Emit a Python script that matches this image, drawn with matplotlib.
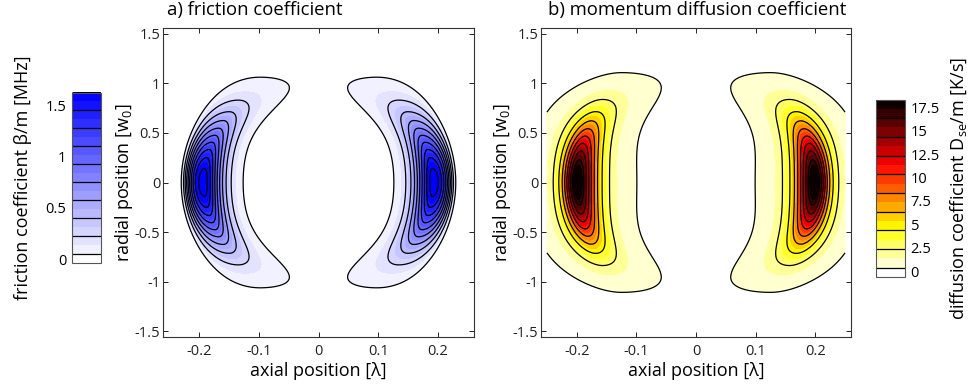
import numpy as np
import matplotlib
matplotlib.use("Agg")
import matplotlib.pyplot as plt
from matplotlib.colors import LinearSegmentedColormap, Normalize
from matplotlib.ticker import FormatStrFormatter

plt.rcParams["font.family"] = ["Open Sans", "DejaVu Sans"]
plt.rcParams["mathtext.default"] = "regular"
plt.rcParams["axes.unicode_minus"] = False

# ---- values ----
x_ticks = [-0.2, -0.1, 0, 0.1, 0.2]
r_ticks = [-1.5, -1, -0.5, 0, 0.5, 1, 1.5]
x_lim = (-0.26, 0.26)
r_lim = (-1.56, 1.56)
data_x = (-0.25, 0.25)

# ridge height along r (both maps): exp(-k2 r^2 - k4 r^4)
env_k2 = 2.6
env_k4 = 0.5

# a) friction coefficient [MHz]
fric_peak = 1.72
fric_peak_x = 0.192       # ridge position at r = 0
fric_bend = 0.0834        # ridge moves toward x = 0 by bend * r^2
fric_widen_out = 0.6      # outer flank widens by (1 + k r^2)
fric_widen_in = 1.9       # inner flank widens by (1 + k r^4)
fric_half = 0.0405        # peak to outer zero crossing at r = 0
fric_sharp_out = 2.15
fric_sharp_in = 5.4
fric_lines = [0.048, 0.224, 0.400, 0.576, 0.752, 0.928, 1.104, 1.280, 1.456, 1.632]
fric_fill = [-0.03, 0.048, 0.136, 0.224, 0.312, 0.400, 0.488, 0.576, 0.664, 0.752,
             0.840, 0.928, 1.016, 1.104, 1.192, 1.280, 1.368, 1.456, 1.544, 1.632, 1.81]
fric_color_lim = (0.0, 1.62)
fric_cb_lim = (-0.03, 1.62)
fric_cb_ticks = [0, 0.5, 1, 1.5]

# b) momentum diffusion coefficient [K/s]
diff_peak = 18.8
diff_peak_x = 0.199
diff_bend = 0.06
diff_widen_out = 1.4
diff_widen_in = 1.7
diff_width_out = 0.030
diff_width_in = 0.040
diff_lines = [0.36, 2.36, 4.36, 6.36, 8.36, 10.36, 12.36, 14.36, 16.36]
diff_fill = [-0.5, 0.36, 1.36, 2.36, 3.36, 4.36, 5.36, 6.36, 7.36, 8.36, 9.36,
             10.36, 11.36, 12.36, 13.36, 14.36, 15.36, 16.36, 17.36, 18.36, 19.36]
diff_color_lim = (0.0, 18.0)
diff_cb_lim = (-0.5, 18.3)
diff_cb_ticks = [0, 2.5, 5, 7.5, 10, 12.5, 15, 17.5]


def envelope(r):
    return np.exp(-env_k2 * r ** 2 - env_k4 * r ** 4)


def crescent_offset(x, r, peak_x, bend, widen_out, widen_in):
    # signed distance from the bent ridge, scaled by the local flank width
    raw = np.abs(x) - (peak_x - bend * r ** 2)
    scale = np.where(raw > 0, 1 + widen_out * r ** 2, 1 + widen_in * r ** 4)
    return raw / scale


x = np.linspace(data_x[0], data_x[1], 501)
r = np.linspace(r_lim[0], r_lim[1], 601)
X, R = np.meshgrid(x, r)

d = crescent_offset(X, R, fric_peak_x, fric_bend, fric_widen_out, fric_widen_in)
tau = 1 - d / fric_half
sharp = np.where(tau < 1, fric_sharp_out, fric_sharp_in)
tau_c = np.maximum(tau, 1e-9)
prof = np.where(tau > 0, np.exp(sharp * (np.log(tau_c) + 1 - tau_c)), 0.0)
friction = fric_peak * envelope(R) * prof

d = crescent_offset(X, R, diff_peak_x, diff_bend, diff_widen_out, diff_widen_in)
width = np.where(d > 0, diff_width_out, diff_width_in)
diffusion = diff_peak * envelope(R) * (1 + (d / width) ** 2) ** -2

blue_cmap = LinearSegmentedColormap.from_list("wb", ["white", "#0000ff"])
hot_cmap = plt.get_cmap("hot_r")


def band_colors(levels, cmap, lim):
    norm = Normalize(lim[0], lim[1])
    cols = ["white"]
    for lo, hi in zip(levels[1:-1], levels[2:]):
        cols.append(cmap(float(np.clip(norm(0.5 * (lo + hi)), 0, 1))))
    return cols


W, H = 976, 389
fig = plt.figure(figsize=(W / 100, H / 100), dpi=100)


def fig_rect(left, top, right, bottom):
    return [left / W, 1 - bottom / H, (right - left) / W, (bottom - top) / H]


ax_a = fig.add_axes(fig_rect(163, 28, 474, 337))
ax_b = fig.add_axes(fig_rect(541, 28, 851, 337))
cax_a = fig.add_axes(fig_rect(72, 93, 101, 263))
cax_b = fig.add_axes(fig_rect(876, 100, 905, 277))

panels = [
    (ax_a, cax_a, friction, fric_fill, fric_lines, blue_cmap, fric_color_lim,
     fric_cb_lim, fric_cb_ticks),
    (ax_b, cax_b, diffusion, diff_fill, diff_lines, hot_cmap, diff_color_lim,
     diff_cb_lim, diff_cb_ticks),
]

for ax, cax, Z, fill, lines, cmap, col_lim, cb_lim, cb_ticks in panels:
    cf = ax.contourf(X, R, Z, levels=fill, colors=band_colors(fill, cmap, col_lim))
    cs = ax.contour(X, R, Z, levels=lines, colors="black", linewidths=0.9)
    ax.set_xlim(*x_lim)
    ax.set_ylim(*r_lim)
    ax.set_xticks(x_ticks)
    ax.set_yticks(r_ticks)
    ax.xaxis.set_major_formatter(FormatStrFormatter("%g"))
    ax.yaxis.set_major_formatter(FormatStrFormatter("%g"))
    ax.tick_params(direction="in", top=True, right=True, length=3.5, width=0.7,
                   labelsize=10.5, colors="#222222")
    ax.tick_params(axis="y", pad=2)
    ax.tick_params(axis="x", pad=5)
    for sp in ax.spines.values():
        sp.set_linewidth(0.8)
        sp.set_color("#333333")
    ax.set_xlabel("axial position [λ]", fontsize=13)
    ax.set_ylabel("radial position [w$_0$]", fontsize=13)
    ax.xaxis.set_label_coords(0.5, -0.08)
    ax.yaxis.set_label_coords(-0.09, 0.5)

    cb = fig.colorbar(cf, cax=cax)
    cb.add_lines(cs)
    cb.ax.set_ylim(*cb_lim)
    cb.set_ticks(cb_ticks)
    cb.ax.yaxis.set_major_formatter(FormatStrFormatter("%g"))
    cb.ax.tick_params(length=0, labelsize=10.5, pad=4)
    cb.outline.set_linewidth(0.8)
    cb.outline.set_edgecolor("#555555")

cax_a.yaxis.set_ticks_position("left")
cax_a.yaxis.set_label_position("left")
cax_a.set_ylabel("friction coefficient β/m [MHz]", fontsize=13, labelpad=10)
cax_b.set_ylabel("diffusion coefficient D$_{se}$/m [K/s]", fontsize=13, labelpad=6)

fig.text(167 / W, 1 - 15 / H, "a) friction coefficient", fontsize=13.3,
         ha="left", va="baseline")
fig.text(697 / W, 1 - 15 / H, "b) momentum diffusion coefficient", fontsize=13.3,
         ha="center", va="baseline")

fig.savefig("out.png", dpi=100)
